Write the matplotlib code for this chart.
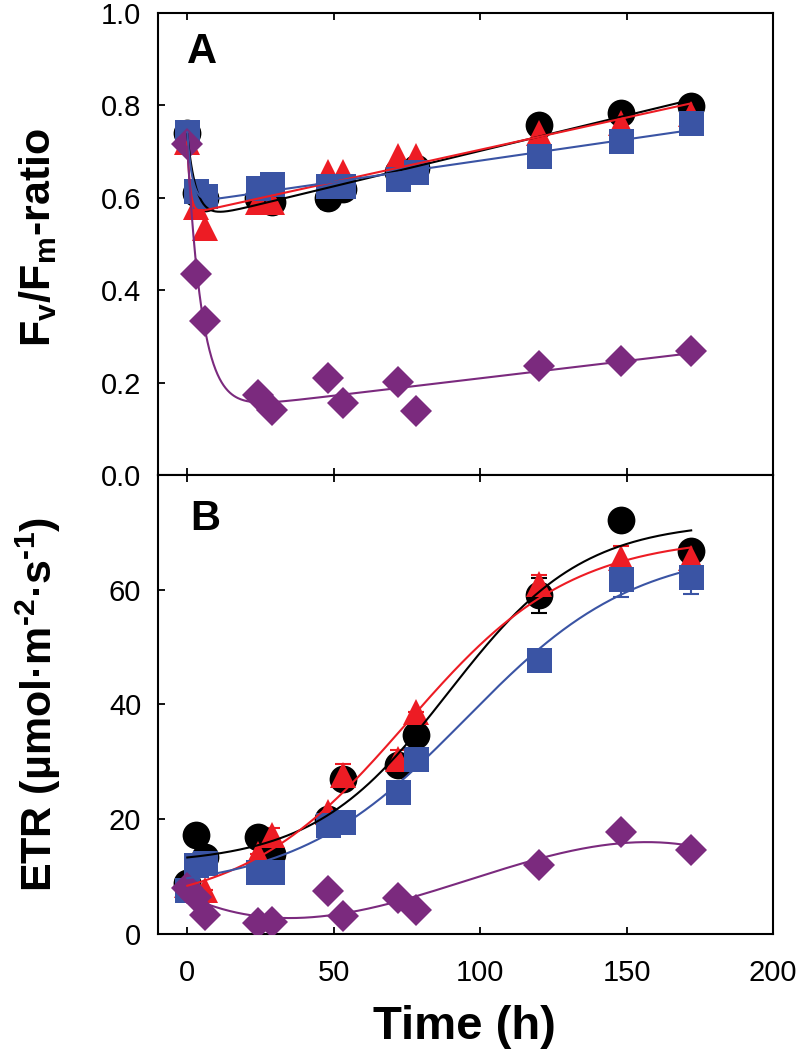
import numpy as np
import matplotlib.pyplot as plt

plt.rcParams['font.family'] = ['Liberation Sans', 'DejaVu Sans']
plt.rcParams['mathtext.fontset'] = 'custom'
plt.rcParams['mathtext.rm'] = 'Liberation Sans:bold'
plt.rcParams['mathtext.bf'] = 'Liberation Sans:bold'

# sampling times (h)
time_h = np.array([0, 3, 6, 24, 29, 48, 53, 72, 78, 120, 148, 172])

# Panel A: Fv/Fm ratio
fvfm_black = np.array([0.74, 0.61, 0.60, 0.60, 0.59, 0.60, 0.62, 0.655, 0.665, 0.757, 0.783, 0.798])
fvfm_red = np.array([0.72, 0.58, 0.535, 0.59, 0.59, 0.655, 0.655, 0.69, 0.69, 0.74, 0.762, 0.782])
fvfm_blue = np.array([0.742, 0.615, 0.604, 0.622, 0.630, 0.626, 0.626, 0.641, 0.655, 0.691, 0.724, 0.762])
fvfm_purple = np.array([0.717, 0.435, 0.334, 0.173, 0.141, 0.211, 0.155, 0.202, 0.138, 0.236, 0.246, 0.269])
fvfm_err_black = np.array([0, 0, 0, 0, 0, 0.025, 0, 0, 0, 0, 0, 0])

# Panel B: ETR
etr_black = np.array([8.8, 17.2, 13.5, 16.9, 14.0, 20.1, 27.0, 29.4, 34.6, 59.0, 72.2, 66.7])
etr_red = np.array([8.5, 8.0, 7.7, 14.0, 17.2, 21.3, 27.7, 30.5, 38.7, 61.0, 65.6, 65.6])
etr_blue = np.array([7.7, 12.0, 12.3, 10.8, 10.8, 19.0, 19.5, 24.7, 30.5, 47.8, 61.8, 62.2])
etr_purple = np.array([8.0, 6.5, 3.3, 1.9, 2.1, 7.5, 3.1, 6.2, 4.2, 12.1, 17.7, 14.6])
etr_err_black = np.array([0, 0, 0, 0, 1.0, 0, 1.5, 0, 0, 3.0, 0, 0])
etr_err_red = np.array([0, 0, 0, 0, 1.2, 0, 2.0, 1.5, 0, 1.5, 2.0, 2.0])
etr_err_blue = np.array([0, 0, 0, 0, 0, 0, 0, 0, 0, 0, 3.0, 3.0])

c_black = 'black'
c_red = '#ED1C24'
c_blue = '#3A54A4'
c_purple = '#7B2A7E'


def fit_decay(t, y):
    # y = a*exp(-t/tau) + b + c*t, grid search on tau
    best = None
    for tau in np.linspace(0.5, 20, 400):
        X = np.column_stack([np.exp(-t / tau), np.ones_like(t, dtype=float), t])
        coef = np.linalg.lstsq(X, y, rcond=None)[0]
        sse = np.sum((X @ coef - y) ** 2)
        if best is None or sse < best[0]:
            best = (sse, tau, coef)
    _, tau, coef = best
    return lambda tt: coef[0] * np.exp(-tt / tau) + coef[1] + coef[2] * tt


def fit_sigmoid(t, y):
    # y = y0 + A / (1 + exp(-(t - t0)/w))
    best = None
    for t0 in np.linspace(40, 160, 121):
        for w in np.linspace(5, 60, 111):
            s = 1 / (1 + np.exp(-(t - t0) / w))
            X = np.column_stack([np.ones_like(t, dtype=float), s])
            coef = np.linalg.lstsq(X, y, rcond=None)[0]
            sse = np.sum((X @ coef - y) ** 2)
            if best is None or sse < best[0]:
                best = (sse, t0, w, coef)
    _, t0, w, coef = best
    return lambda tt: coef[0] + coef[1] / (1 + np.exp(-(tt - t0) / w))


fig = plt.figure(figsize=(8, 10.57), dpi=100)
axA = fig.add_axes([0.1975, 0.5506, 0.769, 0.4371])
axB = fig.add_axes([0.1975, 0.1164, 0.769, 0.4342])

tt = np.linspace(0, 172, 500)
ms = {'o': 20, '^': 19, 's': 18, 'D': 16}

# Panel A
for y, col, mk, err in [(fvfm_black, c_black, 'o', fvfm_err_black),
                        (fvfm_red, c_red, '^', None),
                        (fvfm_blue, c_blue, 's', None),
                        (fvfm_purple, c_purple, 'D', None)]:
    if err is not None:
        axA.errorbar(time_h, y, yerr=err, fmt='none', ecolor=col, elinewidth=1.5,
                     capsize=6, capthick=1.5, zorder=2)
    axA.plot(time_h, y, linestyle='none', marker=mk, ms=ms[mk], color=col,
             markeredgewidth=0, zorder=3)
    f = fit_decay(time_h.astype(float), y)
    axA.plot(tt, f(tt), color=col, lw=1.5, zorder=4)

# Panel B
for y, col, mk, err in [(etr_black, c_black, 'o', etr_err_black),
                        (etr_red, c_red, '^', etr_err_red),
                        (etr_blue, c_blue, 's', etr_err_blue),
                        (etr_purple, c_purple, 'D', None)]:
    if err is not None:
        axB.errorbar(time_h, y, yerr=err, fmt='none', ecolor=col, elinewidth=1.5,
                     capsize=6, capthick=1.5, zorder=2)
    axB.plot(time_h, y, linestyle='none', marker=mk, ms=ms[mk], color=col,
             markeredgewidth=0, zorder=3)
    if col == c_purple:
        p = np.polyfit(time_h, y, 3)
        axB.plot(tt, np.polyval(p, tt), color=col, lw=1.5, zorder=4)
    else:
        f = fit_sigmoid(time_h.astype(float), y)
        axB.plot(tt, f(tt), color=col, lw=1.5, zorder=4)

for ax in (axA, axB):
    ax.set_xlim(-10, 200)
    ax.set_xticks([0, 50, 100, 150, 200])
    for s in ax.spines.values():
        s.set_linewidth(1.5)
    ax.tick_params(direction='in', length=5, width=1.3, top=True, right=False,
                   labelsize=21)
    ax.tick_params(axis='y', pad=12)
    ax.tick_params(axis='x', pad=18)

axA.set_ylim(0, 1.0)
axA.set_yticks(np.arange(0, 1.01, 0.2))
axA.set_yticklabels([f'{v:.1f}' for v in np.arange(0, 1.01, 0.2)])
axA.tick_params(axis='x', labelbottom=False)

axB.set_ylim(0, 80)
axB.set_yticks([0, 20, 40, 60])

axA.text(0.072, 0.915, 'A', transform=axA.transAxes, fontsize=30,
         fontweight='bold', ha='center', va='center')
axB.text(0.077, 0.905, 'B', transform=axB.transAxes, fontsize=30,
         fontweight='bold', ha='center', va='center')

fig.text(0.048, 0.775, r'$\mathbf{F_v/F_m}$-ratio', rotation=90, fontsize=31,
         fontweight='bold', ha='center', va='center')
fig.text(0.048, 0.334, r'ETR (µmol·m$^{\text{-2}}$·s$^{\text{-1}}$)', rotation=90,
         fontsize=31, fontweight='bold', ha='center', va='center')
fig.text(0.58, 0.028, 'Time (h)', fontsize=34, fontweight='bold',
         ha='center', va='center')

fig.savefig('out.png', dpi=100)
